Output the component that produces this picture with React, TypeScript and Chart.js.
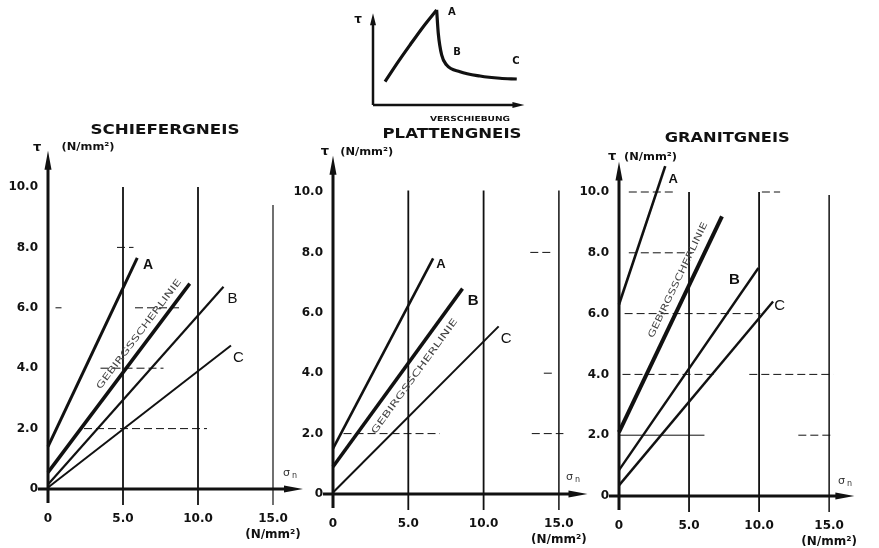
import React, { useEffect, useRef } from "react";
import { Chart, registerables } from "chart.js";
Chart.register(...registerables);

type Pt = { x: number; y: number };
type Seg = [number, number, number, number]; // y, x0, x1, solid?

// ---------- shared axis text ----------
const xTickValues = [0, 5, 10, 15];
const xTickText = ["0", "5.0", "10.0", "15.0"];
const yTickValues = [0, 2, 4, 6, 8, 10];
const yTickText = ["0", "2.0", "4.0", "6.0", "8.0", "10.0"];
const unitText = "(N/mm²)";
const tauText = "τ";
const sigmaText = "σ";
const sigmaSub = "n";
const scherText = "GEBIRGSSCHERLINIE";
const curveNames = ["A", "B", "C"];

// ---------- Schiefergneis ----------
const schieferTitle = "SCHIEFERGNEIS";
const schieferA: Pt[] = [{ x: 0, y: 1.4 }, { x: 5.95, y: 7.65 }];
const schieferScher: Pt[] = [{ x: 0, y: 0.55 }, { x: 9.45, y: 6.8 }];
const schieferB: Pt[] = [{ x: 0, y: 0.15 }, { x: 11.7, y: 6.7 }];
const schieferC: Pt[] = [{ x: 0, y: 0.05 }, { x: 12.2, y: 4.75 }];
const schieferLabelPos: Pt[] = [{ x: 6.67, y: 7.4 }, { x: 12.3, y: 6.3 }, { x: 12.7, y: 4.35 }];
const schieferGridTop = [10, 10, 9.4];
const schieferHSeg: Seg[] = [
  [8, 4.6, 5.7, 0], [6, 0.5, 0.9, 0], [6, 5.8, 8.9, 0], [4, 3.5, 7.7, 0], [2, 2.4, 10.6, 0],
];

// ---------- Plattengneis ----------
const plattenTitle = "PLATTENGNEIS";
const plattenA: Pt[] = [{ x: 0, y: 1.5 }, { x: 6.65, y: 7.8 }];
const plattenB: Pt[] = [{ x: 0, y: 0.9 }, { x: 8.6, y: 6.8 }];
const plattenC: Pt[] = [{ x: 0, y: 0.05 }, { x: 11.0, y: 5.55 }];
const plattenLabelPos: Pt[] = [{ x: 7.17, y: 7.6 }, { x: 9.3, y: 6.4 }, { x: 11.5, y: 5.13 }];
const plattenGridTop = [10.05, 10.05, 10.05];
const plattenHSeg: Seg[] = [
  [8, 13.1, 14.6, 0], [4, 14.0, 14.6, 0], [2, 0.7, 7.1, 0], [2, 13.2, 15.3, 0],
];

// ---------- Granitgneis ----------
const granitTitle = "GRANITGNEIS";
const granitA: Pt[] = [{ x: 0, y: 6.3 }, { x: 3.3, y: 10.85 }];
const granitScher: Pt[] = [{ x: 0, y: 2.1 }, { x: 7.35, y: 9.2 }];
const granitB: Pt[] = [{ x: 0, y: 0.85 }, { x: 9.95, y: 7.5 }];
const granitC: Pt[] = [{ x: 0, y: 0.35 }, { x: 11.0, y: 6.4 }];
const granitLabelPos: Pt[] = [{ x: 3.87, y: 10.4 }, { x: 8.23, y: 7.1 }, { x: 11.46, y: 6.27 }];
const granitGridTop = [10, 10, 9.9];
const granitHSeg: Seg[] = [
  [10, 0.7, 3.85, 0], [10, 10.2, 11.5, 0], [8, 0.7, 5.2, 0], [6, 0.4, 10.1, 0],
  [4, 0.25, 6.75, 0], [4, 9.3, 15.3, 0], [2, 0, 6.1, 1], [2, 12.8, 15.3, 0],
];

// ---------- Inset (schematic) ----------
const insetRise: Pt[] = [
  { x: 0.82, y: 2.59 }, { x: 1.72, y: 4.81 }, { x: 2.52, y: 6.67 }, { x: 3.42, y: 8.7 }, { x: 4.33, y: 10.56 },
];
const insetFall: Pt[] = [
  { x: 4.33, y: 10.56 }, { x: 4.44, y: 7.97 }, { x: 4.67, y: 5.56 }, { x: 5.01, y: 4.44 },
  { x: 5.92, y: 3.7 }, { x: 7.28, y: 3.22 }, { x: 8.64, y: 2.97 }, { x: 9.78, y: 2.89 },
];
const insetLabelPos: Pt[] = [{ x: 5.37, y: 10.33 }, { x: 5.71, y: 5.89 }, { x: 9.73, y: 4.89 }];
const insetTauPos: Pt = { x: -1.02, y: 9.44 };
const insetXLabel = "VERSCHIEBUNG";
const insetXLabelPos: Pt = { x: 6.6, y: -1.56 };

const INK = "#111111";
const FONT = "'DejaVu Sans', 'Liberation Sans', sans-serif";
const W = 879;
const H = 548;

function fitText(ctx: any, text: string, cx: number, cy: number, w: number) {
  const m = ctx.measureText(text).width || 1;
  ctx.save();
  ctx.translate(cx, cy);
  ctx.scale(w / m, 1);
  ctx.fillText(text, 0, 0);
  ctx.restore();
}

const panels = [
  {
    title: schieferTitle, titlePos: { x: 7.8, y: 11.89 }, titleW: 149,
    ox: 48, oy: 489, ppx: 15, ppy: 30.2, xMax: 17, yMax: 11.2,
    lines: [schieferA, schieferScher, schieferB, schieferC], widths: [3, 3.5, 2.2, 2],
    labelPos: schieferLabelPos, labelFonts: ["bold 14px", "15px", "15px"],
    gridTop: schieferGridTop, gridW: [1.8, 1.8, 1.2], hseg: schieferHSeg,
    tau: { x: -0.73, y: 11.32 }, unit: { x: 2.67, y: 11.32 }, sigma: { x: 16.1, y: 0.53 },
    scher: { idx: 1, t: 0.7, off: 10, w: 135 },
  },
  {
    title: plattenTitle, titlePos: { x: 7.9, y: 11.92 }, titleW: 139,
    ox: 333, oy: 494, ppx: 15.06, ppy: 30.2, xMax: 16.9, yMax: 11.2,
    lines: [plattenA, plattenB, plattenC], widths: [2.6, 3.5, 2],
    labelPos: plattenLabelPos, labelFonts: ["bold 13px", "bold 15px", "15px"],
    gridTop: plattenGridTop, gridW: [1.8, 1.8, 1.5], hseg: plattenHSeg,
    tau: { x: -0.53, y: 11.33 }, unit: { x: 2.24, y: 11.33 }, sigma: { x: 15.9, y: 0.56 },
    scher: { idx: 1, t: 0.55, off: -13, w: 140 },
  },
  {
    title: granitTitle, titlePos: { x: 7.72, y: 11.78 }, titleW: 125,
    ox: 619, oy: 496, ppx: 14.9, ppy: 30.4, xMax: 16.8, yMax: 11.0,
    lines: [granitA, granitScher, granitB, granitC], widths: [2.6, 4, 2.4, 2.4],
    labelPos: granitLabelPos, labelFonts: ["bold 13px", "bold 15px", "15px"],
    gridTop: granitGridTop, gridW: [1.8, 1.8, 1.5], hseg: granitHSeg,
    tau: { x: -0.49, y: 11.15 }, unit: { x: 2.25, y: 11.15 }, sigma: { x: 16.1, y: 0.49 },
    scher: { idx: 1, t: 0.68, off: 12, w: 127 },
  },
];

function drawAxes(ctx: any, x0: number, y0: number, xe: number, ye: number, lw: number, below: number, left: number, ah: number, aw: number) {
  ctx.strokeStyle = INK;
  ctx.fillStyle = INK;
  ctx.lineWidth = lw;
  ctx.beginPath();
  ctx.moveTo(x0, y0 + below);
  ctx.lineTo(x0, ye + ah - 2);
  ctx.stroke();
  ctx.beginPath();
  ctx.moveTo(x0 - left, y0);
  ctx.lineTo(xe - ah + 2, y0);
  ctx.stroke();
  ctx.beginPath();
  ctx.moveTo(x0, ye);
  ctx.lineTo(x0 - aw, ye + ah);
  ctx.lineTo(x0 + aw, ye + ah);
  ctx.closePath();
  ctx.fill();
  ctx.beginPath();
  ctx.moveTo(xe, y0);
  ctx.lineTo(xe - ah, y0 - aw);
  ctx.lineTo(xe - ah, y0 + aw);
  ctx.closePath();
  ctx.fill();
}

function decorPlugin(p: any) {
  return {
    id: "decor",
    beforeDatasetsDraw(chart: any) {
      const ctx = chart.ctx;
      const xs = chart.scales.x, ys = chart.scales.y;
      const X = (v: number) => xs.getPixelForValue(v);
      const Y = (v: number) => ys.getPixelForValue(v);
      ctx.save();
      ctx.strokeStyle = INK;
      xTickValues.slice(1).forEach((v, i) => {
        ctx.lineWidth = p.gridW[i];
        ctx.beginPath();
        ctx.moveTo(X(v), Y(0) + 16);
        ctx.lineTo(X(v), Y(p.gridTop[i]));
        ctx.stroke();
      });
      ctx.lineWidth = 1;
      p.hseg.forEach(([y, a, b, solid]: Seg) => {
        ctx.setLineDash(solid ? [] : [8, 4]);
        ctx.beginPath();
        ctx.moveTo(X(a), Y(y));
        ctx.lineTo(X(b), Y(y));
        ctx.stroke();
      });
      ctx.setLineDash([]);
      drawAxes(ctx, X(0), Y(0), X(p.xMax), Y(p.yMax), 3, 14, 10, 19, 3.5);
      ctx.restore();
    },
    afterDatasetsDraw(chart: any) {
      const ctx = chart.ctx;
      const xs = chart.scales.x, ys = chart.scales.y;
      const X = (v: number) => xs.getPixelForValue(v);
      const Y = (v: number) => ys.getPixelForValue(v);
      ctx.save();
      ctx.fillStyle = INK;
      ctx.textAlign = "center";
      ctx.textBaseline = "middle";
      ctx.font = `bold 14px ${FONT}`;
      fitText(ctx, p.title, X(p.titlePos.x), Y(p.titlePos.y), p.titleW);
      ctx.font = `bold 13px ${FONT}`;
      ctx.fillText(tauText, X(p.tau.x), Y(p.tau.y));
      ctx.font = `bold 11px ${FONT}`;
      fitText(ctx, unitText, X(p.unit.x), Y(p.unit.y), 53);
      // sigma n
      ctx.font = `11px ${FONT}`;
      ctx.fillStyle = "#333";
      ctx.fillText(sigmaText, X(p.sigma.x) - 3, Y(p.sigma.y));
      ctx.font = `8px ${FONT}`;
      ctx.fillText(sigmaSub, X(p.sigma.x) + 5, Y(p.sigma.y) + 3);
      ctx.fillStyle = INK;
      // curve names
      curveNames.forEach((n, i) => {
        ctx.font = `${p.labelFonts[i]} 'Liberation Sans', Arial, sans-serif`;
        ctx.fillText(n, X(p.labelPos[i].x), Y(p.labelPos[i].y));
      });
      // Gebirgsscherlinie text
      const L = p.lines[p.scher.idx];
      const a = L[0], b = L[L.length - 1];
      const ax = X(a.x), ay = Y(a.y), bx = X(b.x), by = Y(b.y);
      const ang = Math.atan2(by - ay, bx - ax);
      let cx = ax + (bx - ax) * p.scher.t;
      let cy = ay + (by - ay) * p.scher.t;
      cx += Math.sin(ang) * p.scher.off;
      cy += -Math.cos(ang) * p.scher.off;
      ctx.translate(cx, cy);
      ctx.rotate(ang);
      ctx.fillStyle = "#444";
      ctx.font = `9px ${FONT}`;
      fitText(ctx, scherText, 0, 0, p.scher.w);
      ctx.restore();
    },
  };
}

function buildPanel(canvas: HTMLCanvasElement, p: any) {
  const HX = 50, WY = 44;
  const left = p.ox, bottom = p.oy;
  const right = p.ox + p.xMax * p.ppx;
  const top = p.oy - p.yMax * p.ppy;
  const tickFont = { family: FONT, size: 12, weight: "bold", lineHeight: 1.4 };
  return new Chart(canvas, {
    type: "scatter",
    data: {
      datasets: p.lines.map((pts: Pt[], i: number) => ({
        data: pts,
        showLine: true,
        borderColor: INK,
        backgroundColor: INK,
        borderWidth: p.widths[i],
        pointRadius: 0,
        borderCapStyle: "butt",
        clip: false,
      })),
    },
    options: {
      animation: false,
      responsive: false,
      devicePixelRatio: 1,
      events: [],
      layout: { padding: { left: left - WY, right: W - right, top, bottom: H - bottom - HX } },
      plugins: { legend: { display: false }, tooltip: { enabled: false }, title: { display: false } },
      scales: {
        x: {
          type: "linear",
          min: 0,
          max: p.xMax,
          afterFit: (s: any) => { s.height = HX; },
          afterBuildTicks: (s: any) => { s.ticks = xTickValues.map((v) => ({ value: v })); },
          grid: { display: false, drawTicks: false },
          border: { display: false },
          ticks: {
            padding: 21,
            color: INK,
            autoSkip: false,
            maxRotation: 0,
            minRotation: 0,
            font: tickFont,
            callback: (_v: any, i: number) =>
              i === xTickValues.length - 1 ? [xTickText[i], unitText] : xTickText[i],
          },
        },
        y: {
          type: "linear",
          min: 0,
          max: p.yMax,
          afterFit: (s: any) => { s.width = WY; },
          afterBuildTicks: (s: any) => { s.ticks = yTickValues.map((v) => ({ value: v })); },
          grid: { display: false, drawTicks: false },
          border: { display: false },
          ticks: {
            padding: 10,
            color: INK,
            autoSkip: false,
            font: { family: FONT, size: 12, weight: "bold" },
            callback: (_v: any, i: number) => yTickText[i],
          },
        },
      },
    } as any,
    plugins: [decorPlugin(p)],
  } as any);
}

const inset = { ox: 373, oy: 105, ppx: 14.7, ppy: 9, xMax: 10.3, yMax: 11, axisTop: 10.2 };

function buildInset(canvas: HTMLCanvasElement) {
  const right = inset.ox + inset.xMax * inset.ppx;
  const top = inset.oy - inset.yMax * inset.ppy;
  const plugin = {
    id: "insetDecor",
    beforeDatasetsDraw(chart: any) {
      const ctx = chart.ctx;
      const X = (v: number) => chart.scales.x.getPixelForValue(v);
      const Y = (v: number) => chart.scales.y.getPixelForValue(v);
      ctx.save();
      drawAxes(ctx, X(0), Y(0), X(inset.xMax), Y(inset.axisTop), 2.5, 0, 0, 12, 3);
      ctx.restore();
    },
    afterDatasetsDraw(chart: any) {
      const ctx = chart.ctx;
      const X = (v: number) => chart.scales.x.getPixelForValue(v);
      const Y = (v: number) => chart.scales.y.getPixelForValue(v);
      ctx.save();
      ctx.fillStyle = INK;
      ctx.textAlign = "center";
      ctx.textBaseline = "middle";
      ctx.font = `bold 12px ${FONT}`;
      ctx.fillText(tauText, X(insetTauPos.x), Y(insetTauPos.y));
      ctx.font = `bold 10px ${FONT}`;
      curveNames.forEach((n, i) => ctx.fillText(n, X(insetLabelPos[i].x), Y(insetLabelPos[i].y)));
      ctx.font = `bold 7px ${FONT}`;
      fitText(ctx, insetXLabel, X(insetXLabelPos.x), Y(insetXLabelPos.y), 80);
      ctx.restore();
    },
  };
  return new Chart(canvas, {
    type: "scatter",
    data: {
      datasets: [insetRise, insetFall].map((pts) => ({
        data: pts,
        showLine: true,
        borderColor: INK,
        borderWidth: 3.2,
        pointRadius: 0,
        cubicInterpolationMode: "monotone",
        clip: false,
      })),
    },
    options: {
      animation: false,
      responsive: false,
      devicePixelRatio: 1,
      events: [],
      layout: { padding: { left: inset.ox, right: W - right, top, bottom: H - inset.oy } },
      plugins: { legend: { display: false }, tooltip: { enabled: false } },
      scales: {
        x: { type: "linear", min: 0, max: inset.xMax, display: false },
        y: { type: "linear", min: 0, max: inset.yMax, display: false },
      },
    } as any,
    plugins: [plugin],
  } as any);
}

function Layer({ make }: { make: (c: HTMLCanvasElement) => Chart }) {
  const ref = useRef<HTMLCanvasElement>(null);
  useEffect(() => {
    const ch = make(ref.current as HTMLCanvasElement);
    return () => ch.destroy();
  }, []);
  return (
    <canvas
      ref={ref}
      width={W}
      height={H}
      style={{ position: "absolute", left: 0, top: 0, width: W, height: H }}
    />
  );
}

export default function App() {
  return (
    <div style={{ position: "absolute", left: 0, top: 0, width: W, height: H, background: "#fff", overflow: "hidden" }}>
      <Layer make={(c) => buildInset(c)} />
      {panels.map((p, i) => (
        <Layer key={i} make={(c) => buildPanel(c, p)} />
      ))}
    </div>
  );
}
